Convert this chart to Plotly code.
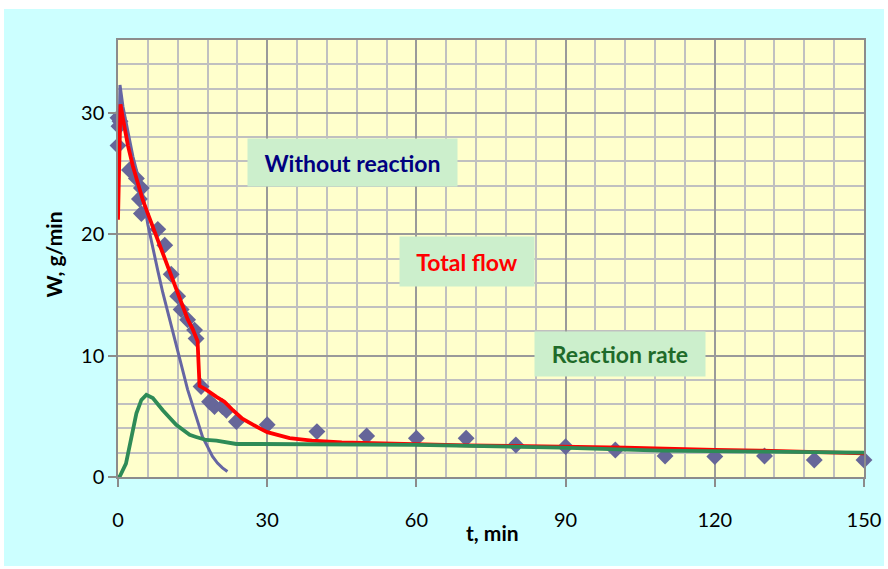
import plotly.graph_objects as go

# Measured total flow (markers)
meas_t = [0, 0, 0.2, 0.4, 2.3, 3.7, 4.7, 4.3, 4.7, 8.0, 9.4, 10.7, 12.0, 12.7, 14.0,
          15.4, 15.7, 16.7, 18.4, 19.4, 21.0, 21.8, 23.8,
          30, 40, 50, 60, 70, 80, 90, 100, 110, 120, 130, 140, 150]
meas_w = [29.6, 27.3, 28.9, 29.3, 25.3, 24.6, 23.8, 22.9, 21.7, 20.4, 19.1, 16.7, 14.9, 13.8, 12.95,
          12.1, 11.4, 7.45, 6.2, 5.8, 5.8, 5.5, 4.56,
          4.3, 3.74, 3.38, 3.19, 3.19, 2.64, 2.5, 2.23, 1.73, 1.68, 1.73, 1.4, 1.4]

# Flow without reaction
norx_t = [0, 0.4, 1, 2, 3, 4, 5, 6, 7, 8, 9, 10, 11, 12, 13, 14, 15, 16, 17, 18, 19, 20, 21, 22]
norx_w = [23.5, 32.3, 30.5, 28.3, 26.4, 24.8, 23.2, 20.8, 18.8, 17.0, 15.2, 13.6, 12.0, 10.3,
          8.9, 7.2, 5.9, 4.5, 3.3, 2.5, 1.7, 1.15, 0.75, 0.45]

# Total flow (model)
total_t = [0, 0.5, 1, 2, 3, 4, 5, 6, 7, 8, 9, 10, 11, 12, 13, 14, 15, 16, 16.4, 17.7, 19.8,
           21.4, 23.1, 25, 28.5, 30, 34.5, 39, 45, 51, 59, 70, 89, 102, 120, 129, 150]
total_w = [21.2, 30.7, 29.5, 27.3, 25.6, 24.2, 22.8, 21.7, 20.6, 19.6, 18.3, 17.2, 16.2, 15.0,
           14.0, 13.0, 12.2, 11.2, 7.5, 7.2, 6.6, 6.2, 5.5, 4.8, 4.0, 3.7, 3.2, 3.0, 2.86,
           2.78, 2.7, 2.6, 2.5, 2.42, 2.23, 2.17, 1.95]

# Reaction rate
rate_t = [0, 0.3, 1.6, 2.65, 3.7, 4.7, 5.7, 7, 9, 11.7, 14.4, 15.7, 17.7, 19.8, 22.4, 23.8,
          28.5, 40, 60, 89, 109, 129, 150]
rate_w = [0.0, 0.0, 1.1, 3.3, 5.25, 6.35, 6.77, 6.5, 5.5, 4.3, 3.47, 3.3, 3.05, 3.0, 2.83,
          2.72, 2.72, 2.72, 2.65, 2.42, 2.17, 2.09, 2.0]

x_ticks = [0, 30, 60, 90, 120, 150]
y_ticks = [0, 10, 20, 30]

FONT = "Lato"
SLATE = "#666699"

fig = go.Figure()
fig.add_trace(go.Scatter(x=meas_t, y=meas_w, mode="markers", cliponaxis=False,
                         marker=dict(symbol="diamond", size=13, color=SLATE),
                         showlegend=False, hoverinfo="skip"))
fig.add_trace(go.Scatter(x=norx_t, y=norx_w, mode="lines",
                         line=dict(color="#6666A3", width=3),
                         showlegend=False, hoverinfo="skip"))
fig.add_trace(go.Scatter(x=total_t, y=total_w, mode="lines",
                         line=dict(color="#FF0000", width=3.8),
                         showlegend=False, hoverinfo="skip"))
fig.add_trace(go.Scatter(x=rate_t, y=rate_w, mode="lines",
                         line=dict(color="#2E8B57", width=3.8),
                         showlegend=False, hoverinfo="skip"))

L, R, T, B = 118, 24, 40, 92
W, H = 888, 569
PW, PH = W - L - R, H - T - B


def px_x(px):
    return (px - L) / PW


def px_y(py):
    return (H - B - py) / PH


axis_common = dict(
    showline=True, mirror=True, linecolor="#8C8C8C", linewidth=1.5,
    gridcolor="#9A9A9A", gridwidth=1.6,
    ticks="outside", ticklen=8, tickcolor="#8C8C8C", tickwidth=1.5,
    tickfont=dict(family=FONT, size=20, color="#000000"),
    zeroline=False, fixedrange=True, automargin=False,
)

fig.update_xaxes(range=[0, 150], tickvals=x_ticks, ticktext=[str(v) for v in x_ticks],
                 ticklabelstandoff=16,
                 minor=dict(dtick=6, tick0=0, showgrid=True, gridcolor="#C0C0C0",
                            gridwidth=1.6, ticklen=0),
                 **axis_common)
fig.update_yaxes(range=[0, 36], tickvals=y_ticks, ticktext=[str(v) for v in y_ticks],
                 minor=dict(dtick=2, tick0=0, showgrid=True, gridcolor="#C0C0C0",
                            gridwidth=1.6, ticklen=0),
                 **axis_common)

box_bg = "#CCEFCC"
annotations = [
    dict(x=47.2, y=25.9, xref="x", yref="y", text="<b>Without reaction</b>",
         font=dict(family=FONT, size=23, color="#000080"),
         bgcolor=box_bg, width=209, height=47, borderpad=0, showarrow=False),
    dict(x=70.2, y=17.75, xref="x", yref="y", text="<b>Total flow</b>",
         font=dict(family=FONT, size=23, color="#FF0000"),
         bgcolor=box_bg, width=134, height=49, borderpad=0, showarrow=False),
    dict(x=100.9, y=10.1, xref="x", yref="y", text="<b>Reaction rate</b>",
         font=dict(family=FONT, size=23, color="#1F6B2A"),
         bgcolor=box_bg, width=170, height=44, borderpad=0, showarrow=False),
    dict(x=px_x(38), y=px_y(255), xref="paper", yref="paper", text="<b>W, g/min</b>",
         textangle=-90, font=dict(family=FONT, size=21, color="#000000"), showarrow=False),
    dict(x=px_x(492), y=px_y(547), xref="paper", yref="paper", text="<b>t, min</b>",
         font=dict(family=FONT, size=21, color="#000000"), showarrow=False),
]

# thin white frame around the cyan chart area
white = dict(type="rect", xref="paper", yref="paper", fillcolor="#FFFFFF",
             line=dict(width=0), layer="above")
shapes = [
    dict(white, x0=-0.3, x1=1.2, y0=px_y(9), y1=1.3),
    dict(white, x0=-0.3, x1=px_x(4), y0=-0.4, y1=1.3),
    dict(white, x0=px_x(884), x1=1.2, y0=-0.4, y1=1.3),
    dict(white, x0=-0.3, x1=1.2, y0=-0.4, y1=px_y(566)),
]

fig.update_layout(
    width=W, height=H,
    margin=dict(l=L, r=R, t=T, b=B),
    paper_bgcolor="#CCFFFF",
    plot_bgcolor="#FFFFCC",
    annotations=annotations,
    shapes=shapes,
    showlegend=False,
)

fig.write_html("out.html", config={"displayModeBar": False})
